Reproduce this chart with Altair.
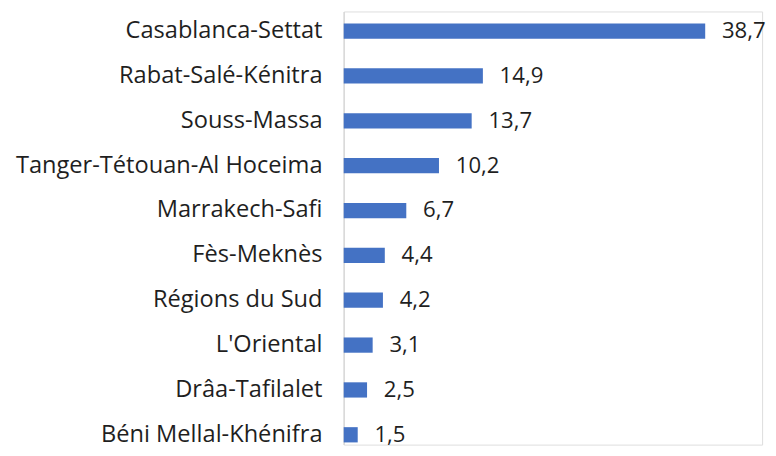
import altair as alt
import pandas as pd

regions = [
    "Casablanca-Settat",
    "Rabat-Salé-Kénitra",
    "Souss-Massa",
    "Tanger-Tétouan-Al Hoceima",
    "Marrakech-Safi",
    "Fès-Meknès",
    "Régions du Sud",
    "L'Oriental",
    "Drâa-Tafilalet",
    "Béni Mellal-Khénifra",
]
values = [38.7, 14.9, 13.7, 10.2, 6.7, 4.4, 4.2, 3.1, 2.5, 1.5]

df = pd.DataFrame({
    "region": regions,
    "value": values,
    "label": [f"{v:.1f}".replace(".", ",") for v in values],
})

FONT = "Open Sans"
TXT = "#1f1f1f"

y = alt.Y(
    "region:N",
    sort=regions,
    title=None,
    scale=alt.Scale(paddingInner=0.66, paddingOuter=0.159, align=0.845),
    axis=alt.Axis(
        ticks=False,
        labelPadding=22,
        labelFont=FONT,
        labelFontSize=24,
        labelColor=TXT,
        domainColor="#d9d9d9",
        domainWidth=1.5,
        labelLimit=400,
    ),
)
x = alt.X(
    "value:Q",
    title=None,
    scale=alt.Scale(domain=[0, 44.79], nice=False),
    axis=None,
)

bars = alt.Chart(df).mark_bar(color="#4472C4").encode(x=x, y=y)
text = alt.Chart(df).mark_text(
    align="left", baseline="middle", dx=17, font=FONT, fontSize=22.5, color=TXT
).encode(x=x, y=y, text="label:N")

chart = (
    (bars + text)
    .properties(
        width=425,
        height=440,
        autosize=alt.AutoSizeParams(type="none"),
        padding={"left": 341, "top": 0, "right": 6, "bottom": 6},
    )
    .configure_view(stroke=None)
    .configure(background="white")
)

chart.save("out.html", embed_options={"renderer": "svg", "actions": False})
